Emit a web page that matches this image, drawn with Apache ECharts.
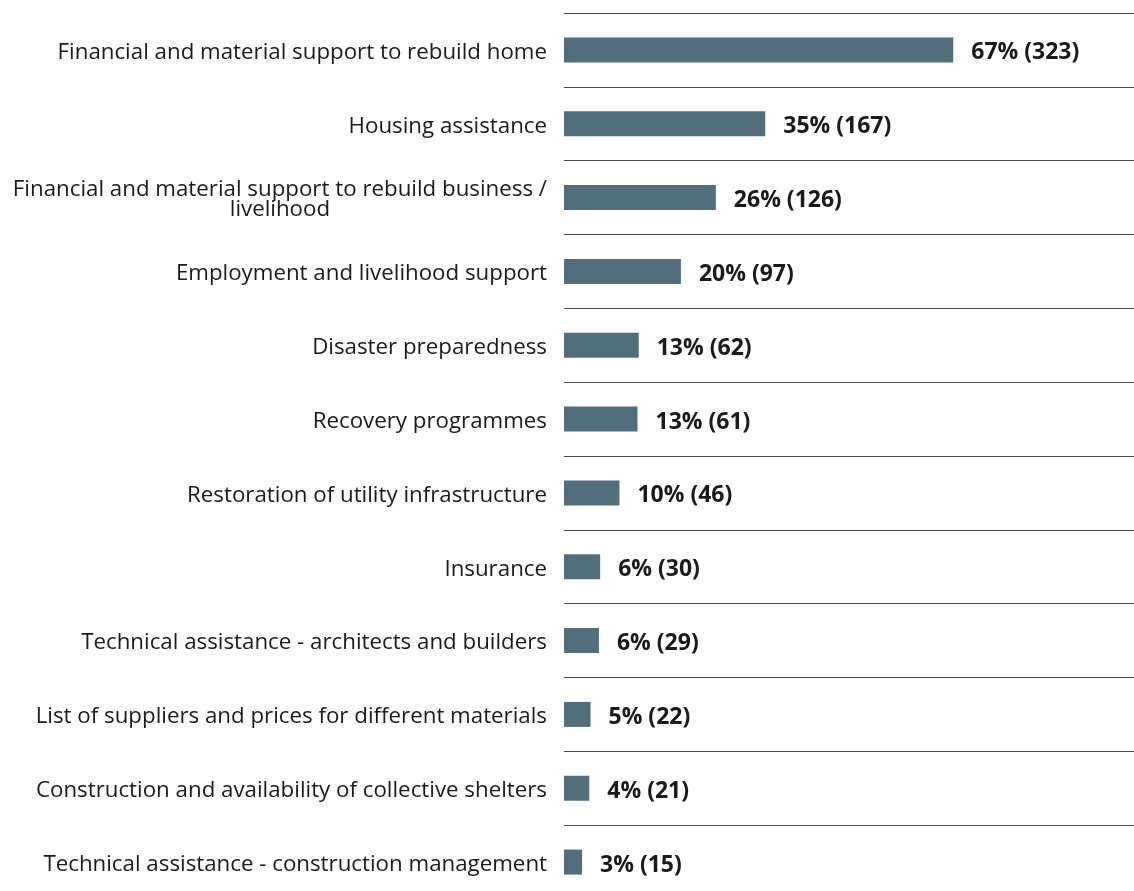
<!DOCTYPE html>
<html>
<head>
<meta charset="utf-8">
<script src="https://cdn.jsdelivr.net/npm/echarts@6/dist/echarts.min.js"></script>
<style>
  html, body { margin: 0; padding: 0; background: #fff; }
  #chart { width: 1134px; height: 891px; }
</style>
</head>
<body>
<div id="chart"></div>
<script>
// categories, top to bottom
var categories = [
  'Financial and material support to rebuild home',
  'Housing assistance',
  'Financial and material support to rebuild business /\nlivelihood',
  'Employment and livelihood support',
  'Disaster preparedness',
  'Recovery programmes',
  'Restoration of utility infrastructure',
  'Insurance',
  'Technical assistance - architects and builders',
  'List of suppliers and prices for different materials',
  'Construction and availability of collective shelters',
  'Technical assistance - construction management'
];
// number of respondents
var counts = [323, 167, 126, 97, 62, 61, 46, 30, 29, 22, 21, 15];
// share of respondents (%)
var percents = [67, 35, 26, 20, 13, 13, 10, 6, 6, 5, 4, 3];

var chart = echarts.init(document.getElementById('chart'));
chart.setOption({
  animation: false,
  grid: { left: 564, right: 0, top: 13, height: 886, outerBoundsMode: 'none', containLabel: false },
  xAxis: {
    type: 'value',
    min: 0,
    max: 473,
    show: false
  },
  yAxis: {
    type: 'category',
    inverse: true,
    data: categories,
    axisLine: { show: false },
    axisTick: { show: false },
    splitLine: { show: true, lineStyle: { color: '#4a4a4a', width: 1 } },
    axisLabel: {
      margin: 17,
      padding: [5, 0, 0, 0],
      formatter: function (v) {
        return v.split('\n').map(function (s) { return '{a|' + s + '}'; }).join('\n');
      },
      rich: {
        a: { align: 'center', fontFamily: 'Open Sans', fontSize: 22.3, color: '#1a1a1a', lineHeight: 20 }
      }
    }
  },
  series: [{
    type: 'bar',
    data: counts,
    barWidth: 25,
    itemStyle: { color: '#526e7c' },
    label: {
      show: true,
      position: 'right',
      distance: 18,
      offset: [0, 3],
      fontFamily: 'Open Sans',
      fontWeight: 'bold',
      fontSize: 23,
      color: '#1a1a1a',
      formatter: function (p) {
        return percents[p.dataIndex] + '% (' + counts[p.dataIndex] + ')';
      }
    }
  }]
});
</script>
</body>
</html>
